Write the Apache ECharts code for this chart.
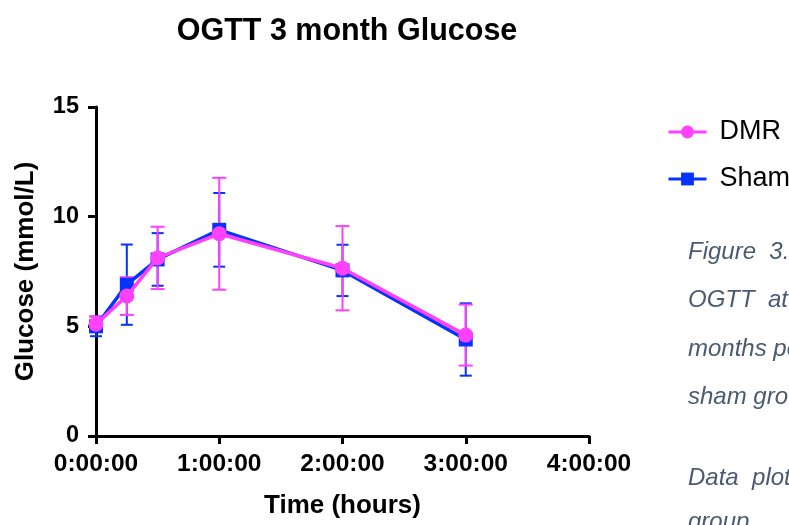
<!DOCTYPE html>
<html>
<head>
<meta charset="utf-8">
<script src="https://cdn.jsdelivr.net/npm/echarts@6/dist/echarts.min.js"></script>
<style>html,body{margin:0;padding:0;background:#fff}#c{width:789px;height:525px}</style>
</head>
<body>
<div id="c"></div>
<script>
var times = [0, 0.25, 0.5, 1, 2, 3]; // hours
var dmrMean = [5.1, 6.38, 8.12, 9.22, 7.65, 4.6];
var dmrSD   = [0.35, 0.86, 1.42, 2.55, 1.92, 1.39];
var shamMean = [5.0, 6.9, 8.05, 9.4, 7.55, 4.4];
var shamSD   = [0.45, 1.83, 1.2, 1.68, 1.17, 1.65];
var xTicks = ['0:00:00', '1:00:00', '2:00:00', '3:00:00', '4:00:00'];
var captionLines = ['Figure  3.', 'OGTT  at  3', 'months post', 'sham group', 'Data  plotted', 'group'];

var PINK = '#FF40FF', BLUE = '#0433FF';
var font = 'Liberation Sans, Arial, Helvetica, sans-serif';

function pts(m){ return times.map(function(t,i){ return [t, m[i]]; }); }
function errs(m, s){ return times.map(function(t,i){ return [t, m[i]-s[i], m[i]+s[i]]; }); }
function errSeries(name, color, data, cap){
  return {
    type: 'custom', name: name + ' SD', data: data, silent: true,
    encode: {x: 0, y: [1, 2]},
    renderItem: function(params, api){
      var lo = api.coord([api.value(0), api.value(1)]);
      var hi = api.coord([api.value(0), api.value(2)]);
      var st = {stroke: color, lineWidth: 2};
      return {type: 'group', children: [
        {type: 'line', shape: {x1: lo[0], y1: lo[1], x2: hi[0], y2: hi[1]}, style: st},
        {type: 'line', shape: {x1: lo[0]-cap, y1: lo[1], x2: lo[0]+cap, y2: lo[1]}, style: st},
        {type: 'line', shape: {x1: hi[0]-cap, y1: hi[1], x2: hi[0]+cap, y2: hi[1]}, style: st}
      ]};
    },
    z: 2
  };
}

var graphics = [];
var capY = [252, 300, 349, 397, 478, 522];
captionLines.forEach(function(l, i){
  graphics.push({type: 'text', x: 688, y: capY[i],
    style: {text: l, fill: '#4a5a72', font: 'italic 24px ' + font, verticalAlign: 'middle'}});
});

var chart = echarts.init(document.getElementById('c'));
chart.setOption({
  animation: false,
  title: {text: 'OGTT 3 month Glucose', left: 342, top: 11, textAlign: 'center',
    textStyle: {fontFamily: font, fontSize: 30.5, fontWeight: 'bold', color: '#000'}},
  grid: {left: 96, right: 200, top: 107, bottom: 89, containLabel: false},
  legend: {
    orient: 'vertical', left: 662, top: 113, itemGap: 19, itemWidth: 38, itemHeight: 16,
    data: ['DMR', 'Sham'],
    lineStyle: {width: 3},
    textStyle: {fontFamily: font, fontSize: 27, color: '#000', lineHeight: 28, padding: [0, 0, 0, 8]}
  },
  xAxis: {
    type: 'value', min: 0, max: 4, interval: 1,
    name: 'Time (hours)', nameLocation: 'middle', nameGap: 57,
    nameTextStyle: {fontFamily: font, fontSize: 26, fontWeight: 'bold', color: '#000'},
    axisLine: {lineStyle: {color: '#000', width: 3}},
    axisTick: {show: true, length: 8, lineStyle: {color: '#000', width: 3}},
    axisLabel: {fontFamily: font, fontSize: 24.5, fontWeight: 'bold', color: '#000', margin: 16,
      formatter: function(v){ return xTicks[Math.round(v)]; }},
    splitLine: {show: false}
  },
  yAxis: {
    type: 'value', min: 0, max: 15, interval: 5,
    name: 'Glucose (mmol/L)', nameLocation: 'middle', nameGap: 57, nameRotate: 90,
    nameTextStyle: {fontFamily: font, fontSize: 26, fontWeight: 'bold', color: '#000'},
    axisLine: {show: true, lineStyle: {color: '#000', width: 3}},
    axisTick: {show: true, length: 8, lineStyle: {color: '#000', width: 3}},
    axisLabel: {fontFamily: font, fontSize: 23.5, fontWeight: 'bold', color: '#000', margin: 17},
    splitLine: {show: false}
  },
  series: [
    errSeries('Sham', BLUE, errs(shamMean, shamSD), 6),
    errSeries('DMR', PINK, errs(dmrMean, dmrSD), 7),
    {name: 'Sham', type: 'line', data: pts(shamMean), symbol: 'rect', symbolSize: 14,
      lineStyle: {color: BLUE, width: 3.5}, itemStyle: {color: BLUE}, z: 3},
    {name: 'DMR', type: 'line', data: pts(dmrMean), symbol: 'circle', symbolSize: 15,
      lineStyle: {color: PINK, width: 3.5}, itemStyle: {color: PINK}, z: 4}
  ],
  graphic: graphics
});
</script>
</body>
</html>
